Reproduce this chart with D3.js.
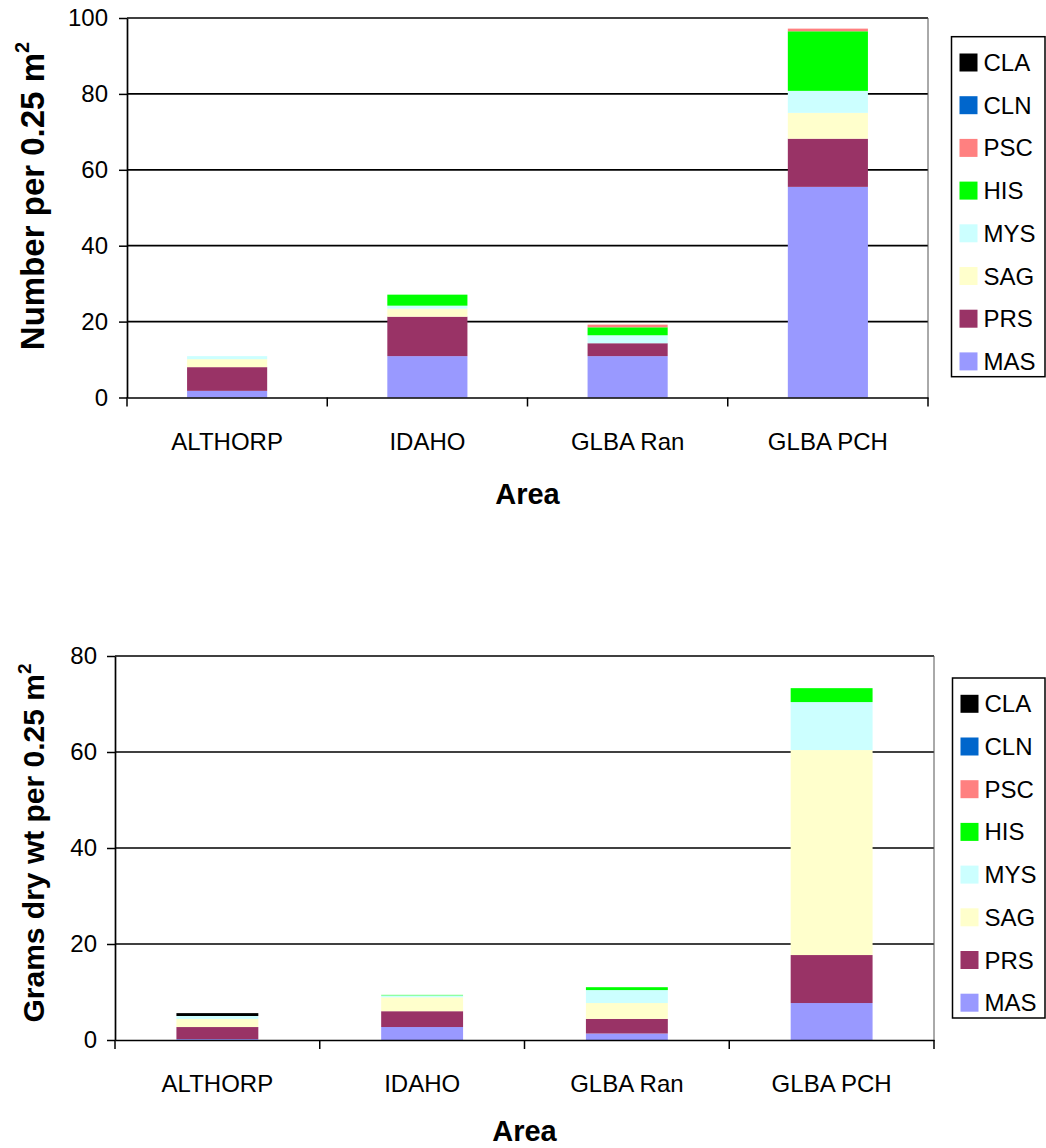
<!DOCTYPE html>
<html>
<head>
<meta charset="utf-8">
<script src="https://cdn.jsdelivr.net/npm/d3@7"></script>
<style>
  html, body { margin: 0; padding: 0; background: #fff; }
  svg { display: block; font-family: "Liberation Sans", Arial, sans-serif; }
</style>
</head>
<body>
<svg id="chart" width="1046" height="1148"></svg>
<script>
// Stacked bars: benthic invertebrate density (top) and dry-weight biomass (bottom) by area

const areas = ['ALTHORP', 'IDAHO', 'GLBA Ran', 'GLBA PCH'];
// stacking order, bottom to top
const species = ['MAS', 'PRS', 'SAG', 'MYS', 'HIS', 'PSC', 'CLN', 'CLA'];
const speciesColors = ['#9999ff', '#993366', '#ffffcc', '#ccffff', '#00ff00', '#ff8080', '#0066cc', '#000000'];

// Number per 0.25 m2 — one array per species, values in area order
const numMAS = [1.75, 10.9, 10.9, 55.5];
const numPRS = [6.25, 10.4, 3.4, 12.7];
const numSAG = [2.1, 2.1, 0, 6.8];
const numMYS = [0.8, 0.8, 2.1, 5.8];
const numHIS = [0, 2.9, 2.1, 15.7];
const numPSC = [0, 0, 0.7, 0.7];
const numCLN = [0, 0, 0, 0];
const numCLA = [0, 0, 0, 0];

// Grams dry wt per 0.25 m2
const wtMAS = [0.2, 2.7, 1.35, 7.7];
const wtPRS = [2.5, 3.3, 3.05, 10.0];
const wtSAG = [1.7, 2.9, 3.3, 42.7];
const wtMYS = [0.6, 0.4, 2.7, 10.0];
const wtHIS = [0, 0.1, 0.6, 2.9];
const wtPSC = [0, 0, 0, 0];
const wtCLN = [0, 0, 0, 0];
const wtCLA = [0.6, 0, 0, 0];

const numTicks = [0, 20, 40, 60, 80, 100];
const wtTicks = [0, 20, 40, 60, 80];

function buildRows(series) {
  return areas.map((area, i) => {
    const row = { area };
    species.forEach((s, k) => { row[s] = series[k][i]; });
    return row;
  });
}

const numRows = buildRows([numMAS, numPRS, numSAG, numMYS, numHIS, numPSC, numCLN, numCLA]);
const wtRows = buildRows([wtMAS, wtPRS, wtSAG, wtMYS, wtHIS, wtPSC, wtCLN, wtCLA]);

const svg = d3.select('#chart');
const color = d3.scaleOrdinal().domain(species).range(speciesColors);

function drawChart(opts) {
  const g = svg.append('g');

  const x = d3.scaleBand()
    .domain(areas)
    .range([opts.left, opts.right])
    .paddingInner(0)
    .paddingOuter(0);

  const y = d3.scaleLinear()
    .domain([0, opts.yMax])
    .range([opts.bottom, opts.top]);

  // Grid
  g.append('g')
    .selectAll('line')
    .data(opts.ticks.filter(t => t > 0))
    .enter()
    .append('line')
    .attr('x1', opts.left)
    .attr('x2', opts.right)
    .attr('y1', d => y(d))
    .attr('y2', d => y(d))
    .attr('stroke', '#000')
    .attr('stroke-width', 1.7);

  // Right border of plot area
  g.append('line')
    .attr('x1', opts.right).attr('x2', opts.right)
    .attr('y1', opts.top).attr('y2', opts.bottom)
    .attr('stroke', '#555')
    .attr('stroke-width', 1);

  // Bars
  const stack = d3.stack().keys(species);
  const layers = stack(opts.rows);
  const barW = x.bandwidth() * 0.4;

  g.append('g')
    .selectAll('g')
    .data(layers)
    .enter()
    .append('g')
    .attr('fill', d => color(d.key))
    .selectAll('rect')
    .data(d => d.filter(p => p[1] - p[0] > 0))
    .enter()
    .append('rect')
    .attr('x', d => x(d.data.area) + (x.bandwidth() - barW) / 2)
    .attr('width', barW)
    .attr('y', d => y(d[1]))
    .attr('height', d => y(d[0]) - y(d[1]));

  // Axes
  const yAxis = g.append('g')
    .attr('transform', `translate(${opts.left},0)`)
    .call(d3.axisLeft(y).tickValues(opts.ticks).tickSize(8).tickPadding(opts.yPad).tickSizeOuter(0));
  yAxis.selectAll('text').attr('font-size', '24px').attr('fill', '#000').attr('font-family', '"Liberation Sans", Arial, sans-serif');
  yAxis.selectAll('line').attr('stroke', '#000').attr('stroke-width', 1.5);
  yAxis.select('.domain').attr('stroke', '#000').attr('stroke-width', 1.7);

  const xAxis = g.append('g')
    .attr('transform', `translate(0,${opts.bottom})`)
    .call(d3.axisBottom(x).tickSize(0).tickPadding(opts.xPad).tickSizeOuter(0));
  xAxis.selectAll('text').attr('font-size', '24px').attr('fill', '#000').attr('font-family', '"Liberation Sans", Arial, sans-serif');
  xAxis.select('.domain').attr('stroke', '#000').attr('stroke-width', 1.7);

  // category separators below the axis
  const bounds = areas.map(a => x(a)).concat([opts.right]);
  g.append('g')
    .selectAll('line')
    .data(bounds)
    .enter()
    .append('line')
    .attr('x1', d => d).attr('x2', d => d)
    .attr('y1', opts.bottom).attr('y2', opts.bottom + 9)
    .attr('stroke', '#000')
    .attr('stroke-width', 1.5);

  // Axis titles
  g.append('text')
    .attr('x', (opts.left + opts.right) / 2)
    .attr('y', opts.bottom + opts.xTitleOffset)
    .attr('text-anchor', 'middle')
    .attr('font-size', '29px')
    .attr('font-weight', 'bold')
    .text('Area');

  const yt = g.append('text')
    .attr('transform', 'rotate(-90)')
    .attr('x', -opts.yTitleCenter)
    .attr('y', 44)
    .attr('text-anchor', 'middle')
    .attr('font-size', opts.yTitleSize + 'px')
    .attr('font-weight', 'bold');
  yt.append('tspan').text(opts.yTitle);
  yt.append('tspan').attr('dy', -opts.yTitleSize * 0.45).attr('font-size', Math.round(opts.yTitleSize * 0.62) + 'px').text('2');

  // Legend
  const lg = g.append('g');
  lg.append('rect')
    .attr('x', opts.legendX)
    .attr('y', opts.legendY)
    .attr('width', 1045 - opts.legendX)
    .attr('height', 340)
    .attr('fill', '#fff')
    .attr('stroke', '#000')
    .attr('stroke-width', 1.5);

  const items = species.slice().reverse();
  items.forEach((s, i) => {
    const cy = opts.legendY + 25.8 + i * 42.7;
    lg.append('rect')
      .attr('x', opts.legendX + 8)
      .attr('y', cy - 9)
      .attr('width', 18)
      .attr('height', 18)
      .attr('fill', color(s));
    lg.append('text')
      .attr('x', opts.legendX + 32)
      .attr('y', cy + 8.5)
      .attr('font-size', '24px')
      .attr('fill', '#000')
      .text(s);
  });
}

drawChart({
  rows: numRows, ticks: numTicks, yMax: 100,
  left: 127, right: 928, top: 18, bottom: 397.5,
  yPad: 11, xPad: 35, xTitleOffset: 106,
  yTitle: 'Number per 0.25 m', yTitleSize: 33, yTitleCenter: 196,
  legendX: 951.5, legendY: 36.7
});

drawChart({
  rows: wtRows, ticks: wtTicks, yMax: 80,
  left: 115, right: 934, top: 656, bottom: 1040,
  yPad: 10, xPad: 35, xTitleOffset: 101,
  yTitle: 'Grams dry wt per 0.25 m', yTitleSize: 30, yTitleCenter: 843,
  legendX: 952.5, legendY: 678
});
</script>
</body>
</html>
